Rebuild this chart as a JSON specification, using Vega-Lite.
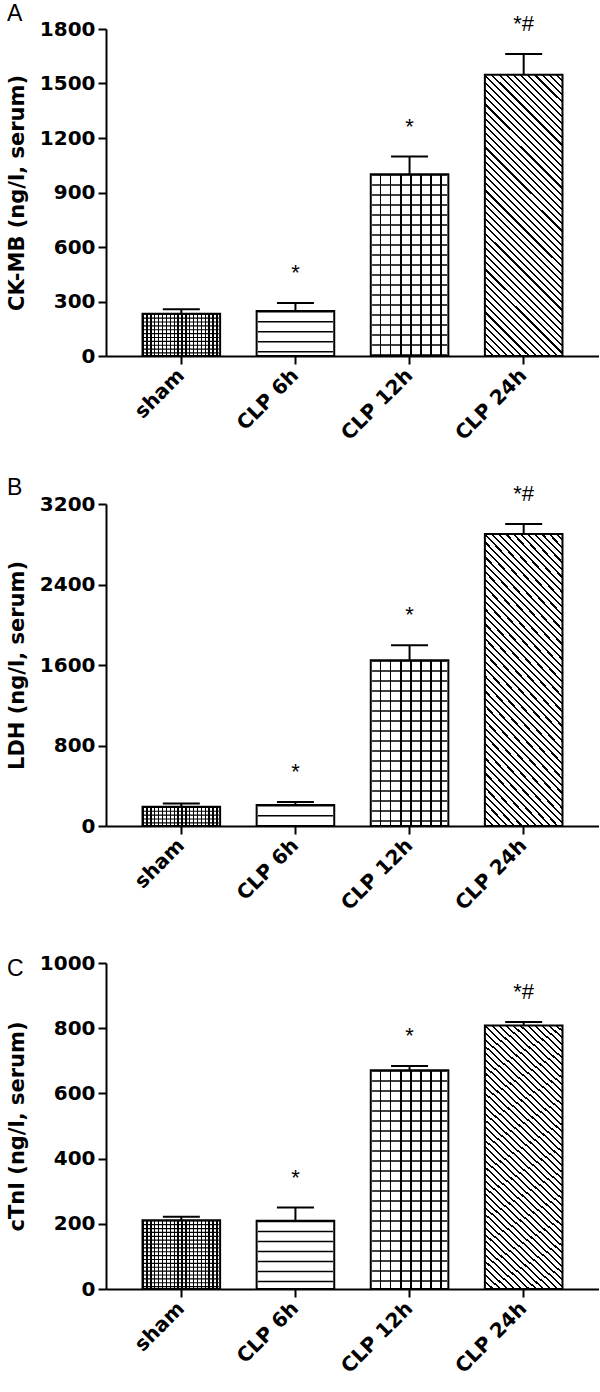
{
"$schema": "https://vega.github.io/schema/vega-lite/v6.json",
"background": "white",
"padding": {"left": 6, "top": 3, "right": 0, "bottom": 2},
"params": [
 {"name": "shamfill", "value": {"gradient": "linear", "x1": 0, "y1": 0, "x2": 1, "y2": 0, "stops": [
   {"offset":0,"color":"#000"},{"offset":0.017,"color":"#000"},{"offset":0.017,"color":"#fff"},{"offset":0.05,"color":"#fff"},
   {"offset":0.05,"color":"#000"},{"offset":0.067,"color":"#000"},{"offset":0.067,"color":"#fff"},{"offset":0.1,"color":"#fff"},
   {"offset":0.1,"color":"#000"},{"offset":0.117,"color":"#000"},{"offset":0.117,"color":"#fff"},{"offset":0.15,"color":"#fff"},
   {"offset":0.15,"color":"#000"},{"offset":0.167,"color":"#000"},{"offset":0.167,"color":"#fff"},{"offset":0.2,"color":"#fff"},
   {"offset":0.2,"color":"#000"},{"offset":0.217,"color":"#000"},{"offset":0.217,"color":"#fff"},{"offset":0.25,"color":"#fff"},
   {"offset":0.25,"color":"#000"},{"offset":0.267,"color":"#000"},{"offset":0.267,"color":"#fff"},{"offset":0.3,"color":"#fff"},
   {"offset":0.3,"color":"#000"},{"offset":0.317,"color":"#000"},{"offset":0.317,"color":"#fff"},{"offset":0.35,"color":"#fff"},
   {"offset":0.35,"color":"#000"},{"offset":0.367,"color":"#000"},{"offset":0.367,"color":"#fff"},{"offset":0.4,"color":"#fff"},
   {"offset":0.4,"color":"#000"},{"offset":0.417,"color":"#000"},{"offset":0.417,"color":"#fff"},{"offset":0.45,"color":"#fff"},
   {"offset":0.45,"color":"#000"},{"offset":0.467,"color":"#000"},{"offset":0.467,"color":"#fff"},{"offset":0.5,"color":"#fff"},
   {"offset":0.5,"color":"#000"},{"offset":0.517,"color":"#000"},{"offset":0.517,"color":"#fff"},{"offset":0.55,"color":"#fff"},
   {"offset":0.55,"color":"#000"},{"offset":0.567,"color":"#000"},{"offset":0.567,"color":"#fff"},{"offset":0.6,"color":"#fff"},
   {"offset":0.6,"color":"#000"},{"offset":0.617,"color":"#000"},{"offset":0.617,"color":"#fff"},{"offset":0.65,"color":"#fff"},
   {"offset":0.65,"color":"#000"},{"offset":0.667,"color":"#000"},{"offset":0.667,"color":"#fff"},{"offset":0.7,"color":"#fff"},
   {"offset":0.7,"color":"#000"},{"offset":0.717,"color":"#000"},{"offset":0.717,"color":"#fff"},{"offset":0.75,"color":"#fff"},
   {"offset":0.75,"color":"#000"},{"offset":0.767,"color":"#000"},{"offset":0.767,"color":"#fff"},{"offset":0.8,"color":"#fff"},
   {"offset":0.8,"color":"#000"},{"offset":0.817,"color":"#000"},{"offset":0.817,"color":"#fff"},{"offset":0.85,"color":"#fff"},
   {"offset":0.85,"color":"#000"},{"offset":0.867,"color":"#000"},{"offset":0.867,"color":"#fff"},{"offset":0.9,"color":"#fff"},
   {"offset":0.9,"color":"#000"},{"offset":0.917,"color":"#000"},{"offset":0.917,"color":"#fff"},{"offset":0.95,"color":"#fff"},
   {"offset":0.95,"color":"#000"},{"offset":0.967,"color":"#000"},{"offset":0.967,"color":"#fff"},{"offset":1,"color":"#fff"}
 ]}},
 {"name": "gridfill", "value": {"gradient": "linear", "x1": 0, "y1": 0, "x2": 1, "y2": 0, "stops": [
   {"offset":0,"color":"#fff"},{"offset":0.12,"color":"#fff"},{"offset":0.12,"color":"#000"},{"offset":0.138,"color":"#000"},
   {"offset":0.138,"color":"#fff"},{"offset":0.249,"color":"#fff"},{"offset":0.249,"color":"#000"},{"offset":0.267,"color":"#000"},
   {"offset":0.267,"color":"#fff"},{"offset":0.379,"color":"#fff"},{"offset":0.379,"color":"#000"},{"offset":0.397,"color":"#000"},
   {"offset":0.397,"color":"#fff"},{"offset":0.508,"color":"#fff"},{"offset":0.508,"color":"#000"},{"offset":0.526,"color":"#000"},
   {"offset":0.526,"color":"#fff"},{"offset":0.637,"color":"#fff"},{"offset":0.637,"color":"#000"},{"offset":0.655,"color":"#000"},
   {"offset":0.655,"color":"#fff"},{"offset":0.766,"color":"#fff"},{"offset":0.766,"color":"#000"},{"offset":0.784,"color":"#000"},
   {"offset":0.784,"color":"#fff"},{"offset":0.895,"color":"#fff"},{"offset":0.895,"color":"#000"},{"offset":0.913,"color":"#000"},
   {"offset":0.913,"color":"#fff"},{"offset":1,"color":"#fff"}
 ]}},
 {"name": "diagfill", "value": {"gradient": "linear", "x1": 0, "y1": 1, "x2": 0.3265, "y2": -0.1855, "stops": [
   {"offset":0,"color":"#000"},{"offset":0.006,"color":"#000"},{"offset":0.006,"color":"#fff"},{"offset":0.02,"color":"#fff"},
   {"offset":0.02,"color":"#000"},{"offset":0.026,"color":"#000"},{"offset":0.026,"color":"#fff"},{"offset":0.04,"color":"#fff"},
   {"offset":0.04,"color":"#000"},{"offset":0.046,"color":"#000"},{"offset":0.046,"color":"#fff"},{"offset":0.06,"color":"#fff"},
   {"offset":0.06,"color":"#000"},{"offset":0.066,"color":"#000"},{"offset":0.066,"color":"#fff"},{"offset":0.08,"color":"#fff"},
   {"offset":0.08,"color":"#000"},{"offset":0.086,"color":"#000"},{"offset":0.086,"color":"#fff"},{"offset":0.1,"color":"#fff"},
   {"offset":0.1,"color":"#000"},{"offset":0.106,"color":"#000"},{"offset":0.106,"color":"#fff"},{"offset":0.12,"color":"#fff"},
   {"offset":0.12,"color":"#000"},{"offset":0.126,"color":"#000"},{"offset":0.126,"color":"#fff"},{"offset":0.14,"color":"#fff"},
   {"offset":0.14,"color":"#000"},{"offset":0.146,"color":"#000"},{"offset":0.146,"color":"#fff"},{"offset":0.16,"color":"#fff"},
   {"offset":0.16,"color":"#000"},{"offset":0.166,"color":"#000"},{"offset":0.166,"color":"#fff"},{"offset":0.18,"color":"#fff"},
   {"offset":0.18,"color":"#000"},{"offset":0.186,"color":"#000"},{"offset":0.186,"color":"#fff"},{"offset":0.2,"color":"#fff"},
   {"offset":0.2,"color":"#000"},{"offset":0.206,"color":"#000"},{"offset":0.206,"color":"#fff"},{"offset":0.22,"color":"#fff"},
   {"offset":0.22,"color":"#000"},{"offset":0.226,"color":"#000"},{"offset":0.226,"color":"#fff"},{"offset":0.24,"color":"#fff"},
   {"offset":0.24,"color":"#000"},{"offset":0.246,"color":"#000"},{"offset":0.246,"color":"#fff"},{"offset":0.26,"color":"#fff"},
   {"offset":0.26,"color":"#000"},{"offset":0.266,"color":"#000"},{"offset":0.266,"color":"#fff"},{"offset":0.28,"color":"#fff"},
   {"offset":0.28,"color":"#000"},{"offset":0.286,"color":"#000"},{"offset":0.286,"color":"#fff"},{"offset":0.3,"color":"#fff"},
   {"offset":0.3,"color":"#000"},{"offset":0.306,"color":"#000"},{"offset":0.306,"color":"#fff"},{"offset":0.32,"color":"#fff"},
   {"offset":0.32,"color":"#000"},{"offset":0.326,"color":"#000"},{"offset":0.326,"color":"#fff"},{"offset":0.34,"color":"#fff"},
   {"offset":0.34,"color":"#000"},{"offset":0.346,"color":"#000"},{"offset":0.346,"color":"#fff"},{"offset":0.36,"color":"#fff"},
   {"offset":0.36,"color":"#000"},{"offset":0.366,"color":"#000"},{"offset":0.366,"color":"#fff"},{"offset":0.38,"color":"#fff"},
   {"offset":0.38,"color":"#000"},{"offset":0.386,"color":"#000"},{"offset":0.386,"color":"#fff"},{"offset":0.4,"color":"#fff"},
   {"offset":0.4,"color":"#000"},{"offset":0.406,"color":"#000"},{"offset":0.406,"color":"#fff"},{"offset":0.42,"color":"#fff"},
   {"offset":0.42,"color":"#000"},{"offset":0.426,"color":"#000"},{"offset":0.426,"color":"#fff"},{"offset":0.44,"color":"#fff"},
   {"offset":0.44,"color":"#000"},{"offset":0.446,"color":"#000"},{"offset":0.446,"color":"#fff"},{"offset":0.46,"color":"#fff"},
   {"offset":0.46,"color":"#000"},{"offset":0.466,"color":"#000"},{"offset":0.466,"color":"#fff"},{"offset":0.48,"color":"#fff"},
   {"offset":0.48,"color":"#000"},{"offset":0.486,"color":"#000"},{"offset":0.486,"color":"#fff"},{"offset":0.5,"color":"#fff"},
   {"offset":0.5,"color":"#000"},{"offset":0.506,"color":"#000"},{"offset":0.506,"color":"#fff"},{"offset":0.52,"color":"#fff"},
   {"offset":0.52,"color":"#000"},{"offset":0.526,"color":"#000"},{"offset":0.526,"color":"#fff"},{"offset":0.54,"color":"#fff"},
   {"offset":0.54,"color":"#000"},{"offset":0.546,"color":"#000"},{"offset":0.546,"color":"#fff"},{"offset":0.56,"color":"#fff"},
   {"offset":0.56,"color":"#000"},{"offset":0.566,"color":"#000"},{"offset":0.566,"color":"#fff"},{"offset":0.58,"color":"#fff"},
   {"offset":0.58,"color":"#000"},{"offset":0.586,"color":"#000"},{"offset":0.586,"color":"#fff"},{"offset":0.6,"color":"#fff"},
   {"offset":0.6,"color":"#000"},{"offset":0.606,"color":"#000"},{"offset":0.606,"color":"#fff"},{"offset":0.62,"color":"#fff"},
   {"offset":0.62,"color":"#000"},{"offset":0.626,"color":"#000"},{"offset":0.626,"color":"#fff"},{"offset":0.64,"color":"#fff"},
   {"offset":0.64,"color":"#000"},{"offset":0.646,"color":"#000"},{"offset":0.646,"color":"#fff"},{"offset":0.66,"color":"#fff"},
   {"offset":0.66,"color":"#000"},{"offset":0.666,"color":"#000"},{"offset":0.666,"color":"#fff"},{"offset":0.68,"color":"#fff"},
   {"offset":0.68,"color":"#000"},{"offset":0.686,"color":"#000"},{"offset":0.686,"color":"#fff"},{"offset":0.7,"color":"#fff"},
   {"offset":0.7,"color":"#000"},{"offset":0.706,"color":"#000"},{"offset":0.706,"color":"#fff"},{"offset":0.72,"color":"#fff"},
   {"offset":0.72,"color":"#000"},{"offset":0.726,"color":"#000"},{"offset":0.726,"color":"#fff"},{"offset":0.74,"color":"#fff"},
   {"offset":0.74,"color":"#000"},{"offset":0.746,"color":"#000"},{"offset":0.746,"color":"#fff"},{"offset":0.76,"color":"#fff"},
   {"offset":0.76,"color":"#000"},{"offset":0.766,"color":"#000"},{"offset":0.766,"color":"#fff"},{"offset":0.78,"color":"#fff"},
   {"offset":0.78,"color":"#000"},{"offset":0.786,"color":"#000"},{"offset":0.786,"color":"#fff"},{"offset":0.8,"color":"#fff"},
   {"offset":0.8,"color":"#000"},{"offset":0.806,"color":"#000"},{"offset":0.806,"color":"#fff"},{"offset":0.82,"color":"#fff"},
   {"offset":0.82,"color":"#000"},{"offset":0.826,"color":"#000"},{"offset":0.826,"color":"#fff"},{"offset":0.84,"color":"#fff"},
   {"offset":0.84,"color":"#000"},{"offset":0.846,"color":"#000"},{"offset":0.846,"color":"#fff"},{"offset":0.86,"color":"#fff"},
   {"offset":0.86,"color":"#000"},{"offset":0.866,"color":"#000"},{"offset":0.866,"color":"#fff"},{"offset":0.88,"color":"#fff"},
   {"offset":0.88,"color":"#000"},{"offset":0.886,"color":"#000"},{"offset":0.886,"color":"#fff"},{"offset":0.9,"color":"#fff"},
   {"offset":0.9,"color":"#000"},{"offset":0.906,"color":"#000"},{"offset":0.906,"color":"#fff"},{"offset":0.92,"color":"#fff"},
   {"offset":0.92,"color":"#000"},{"offset":0.926,"color":"#000"},{"offset":0.926,"color":"#fff"},{"offset":0.94,"color":"#fff"},
   {"offset":0.94,"color":"#000"},{"offset":0.946,"color":"#000"},{"offset":0.946,"color":"#fff"},{"offset":0.96,"color":"#fff"},
   {"offset":0.96,"color":"#000"},{"offset":0.966,"color":"#000"},{"offset":0.966,"color":"#fff"},{"offset":0.98,"color":"#fff"},
   {"offset":0.98,"color":"#000"},{"offset":0.986,"color":"#000"},{"offset":0.986,"color":"#fff"},{"offset":1,"color":"#fff"}
 ]}}
],
"config": {
 "view": {"stroke": null},
 "axis": {"domainColor": "black", "tickColor": "black", "labelColor": "black", "titleColor": "black", "domainWidth": 2, "tickWidth": 2, "tickSize": 8, "grid": false, "labelFont": "DejaVu Sans", "labelFontWeight": "bold", "labelFontSize": 20, "titleFont": "DejaVu Sans", "titleFontWeight": "bold", "titleFontSize": 21},
 "axisX": {"labelAngle": -45, "labelAlign": "right", "labelBaseline": "middle", "labelPadding": 8},
 "axisY": {"labelPadding": 3, "titlePadding": 12, "format": "d"},
 "title": {"font": "Liberation Sans", "fontSize": 23, "fontWeight": "normal", "color": "black", "anchor": "start", "frame": "group", "dx": -99}
},
"bounds": "flush",
"spacing": 148,
"vconcat": [
 {
  "width": 493, "height": 327,
  "title": {"text": "A", "dy": 17},
  "data": {"values": [
   {"group": "sham", "value": 233, "upper": 257, "sig": ""},
   {"group": "CLP 6h", "value": 248, "upper": 292, "sig": "*"},
   {"group": "CLP 12h", "value": 1001, "upper": 1098, "sig": "*"},
   {"group": "CLP 24h", "value": 1548, "upper": 1662, "sig": "*#"}
  ]},
  "encoding": {
   "x": {"field": "group", "type": "nominal", "scale": {"domain": ["sham", "CLP 6h", "CLP 12h", "CLP 24h"], "paddingInner": 0.32, "paddingOuter": 0.32}, "axis": {"title": null}},
   "y": {"field": "value", "type": "quantitative", "scale": {"domain": [0, 1800], "nice": false}, "title": "CK-MB (ng/l, serum)", "axis": {"values": [0, 300, 600, 900, 1200, 1500, 1800]}}
  },
  "layer": [
   {"transform": [{"filter": "datum.group === 'sham'"}], "mark": {"type": "bar", "fill": {"expr": "shamfill"}, "stroke": "black", "strokeWidth": 2}},
   {"transform": [{"filter": "datum.group === 'CLP 6h'"}], "mark": {"type": "bar", "fill": "white", "stroke": "black", "strokeWidth": 2}},
   {"transform": [{"filter": "datum.group === 'CLP 12h'"}], "mark": {"type": "bar", "fill": {"expr": "gridfill"}, "stroke": "black", "strokeWidth": 2}},
   {"transform": [{"filter": "datum.group === 'CLP 24h'"}], "mark": {"type": "bar", "fill": {"expr": "diagfill"}, "stroke": "black", "strokeWidth": 2}},
   {"transform": [{"filter": "datum.group === 'sham'"}], "mark": {"type": "rule", "color": "black", "strokeWidth": 75, "strokeDash": [1.2, 2.67]}, "encoding": {"y2": {"datum": 0}}},
   {"transform": [{"filter": "datum.group === 'CLP 6h' || datum.group === 'CLP 12h'"}], "mark": {"type": "rule", "color": "black", "strokeWidth": 75, "strokeDash": [1.5, 8.5]}, "encoding": {"y2": {"datum": 0}}},
   {"mark": {"type": "rule", "color": "black", "strokeWidth": 2}, "encoding": {"y2": {"field": "upper"}}},
   {"mark": {"type": "tick", "color": "black", "size": 37, "thickness": 2, "opacity": 1}, "encoding": {"y": {"field": "upper", "type": "quantitative", "scale": {"domain": [0, 1800], "nice": false}, "title": "CK-MB (ng/l, serum)"}}},
   {"mark": {"type": "text", "color": "black", "font": "Liberation Sans", "fontSize": 22, "baseline": "alphabetic", "align": "center", "dy": -23}, "encoding": {"y": {"field": "upper", "type": "quantitative", "scale": {"domain": [0, 1800], "nice": false}, "title": "CK-MB (ng/l, serum)"}, "text": {"field": "sig", "type": "nominal"}}}
  ]
 },
 {
  "bounds": "flush",
  "spacing": 137,
  "vconcat": [
   {
    "width": 493, "height": 322,
    "title": {"text": "B", "dy": 21},
    "data": {"values": [
     {"group": "sham", "value": 191, "upper": 224, "sig": ""},
     {"group": "CLP 6h", "value": 209, "upper": 239, "sig": "*"},
     {"group": "CLP 12h", "value": 1648, "upper": 1797, "sig": "*"},
     {"group": "CLP 24h", "value": 2902, "upper": 3001, "sig": "*#"}
    ]},
    "encoding": {
     "x": {"field": "group", "type": "nominal", "scale": {"domain": ["sham", "CLP 6h", "CLP 12h", "CLP 24h"], "paddingInner": 0.32, "paddingOuter": 0.32}, "axis": {"title": null}},
     "y": {"field": "value", "type": "quantitative", "scale": {"domain": [0, 3200], "nice": false}, "title": "LDH (ng/l, serum)", "axis": {"values": [0, 800, 1600, 2400, 3200]}}
    },
    "layer": [
     {"transform": [{"filter": "datum.group === 'sham'"}], "mark": {"type": "bar", "fill": {"expr": "shamfill"}, "stroke": "black", "strokeWidth": 2}},
     {"transform": [{"filter": "datum.group === 'CLP 6h'"}], "mark": {"type": "bar", "fill": "white", "stroke": "black", "strokeWidth": 2}},
     {"transform": [{"filter": "datum.group === 'CLP 12h'"}], "mark": {"type": "bar", "fill": {"expr": "gridfill"}, "stroke": "black", "strokeWidth": 2}},
     {"transform": [{"filter": "datum.group === 'CLP 24h'"}], "mark": {"type": "bar", "fill": {"expr": "diagfill"}, "stroke": "black", "strokeWidth": 2}},
     {"transform": [{"filter": "datum.group === 'sham'"}], "mark": {"type": "rule", "color": "black", "strokeWidth": 75, "strokeDash": [1.2, 2.67]}, "encoding": {"y2": {"datum": 0}}},
     {"transform": [{"filter": "datum.group === 'CLP 6h' || datum.group === 'CLP 12h'"}], "mark": {"type": "rule", "color": "black", "strokeWidth": 75, "strokeDash": [1.5, 8.5]}, "encoding": {"y2": {"datum": 0}}},
     {"mark": {"type": "rule", "color": "black", "strokeWidth": 2}, "encoding": {"y2": {"field": "upper"}}},
     {"mark": {"type": "tick", "color": "black", "size": 37, "thickness": 2, "opacity": 1}, "encoding": {"y": {"field": "upper", "type": "quantitative", "scale": {"domain": [0, 3200], "nice": false}, "title": "LDH (ng/l, serum)"}}},
     {"mark": {"type": "text", "color": "black", "font": "Liberation Sans", "fontSize": 22, "baseline": "alphabetic", "align": "center", "dy": -23}, "encoding": {"y": {"field": "upper", "type": "quantitative", "scale": {"domain": [0, 3200], "nice": false}, "title": "LDH (ng/l, serum)"}, "text": {"field": "sig", "type": "nominal"}}}
    ]
   },
   {
    "width": 493, "height": 326,
    "title": {"text": "C", "dy": 32},
    "data": {"values": [
     {"group": "sham", "value": 211, "upper": 222, "sig": ""},
     {"group": "CLP 6h", "value": 209, "upper": 250, "sig": "*"},
     {"group": "CLP 12h", "value": 671, "upper": 684, "sig": "*"},
     {"group": "CLP 24h", "value": 808, "upper": 819, "sig": "*#"}
    ]},
    "encoding": {
     "x": {"field": "group", "type": "nominal", "scale": {"domain": ["sham", "CLP 6h", "CLP 12h", "CLP 24h"], "paddingInner": 0.32, "paddingOuter": 0.32}, "axis": {"title": null}},
     "y": {"field": "value", "type": "quantitative", "scale": {"domain": [0, 1000], "nice": false}, "title": "cTnI (ng/l, serum)", "axis": {"values": [0, 200, 400, 600, 800, 1000]}}
    },
    "layer": [
     {"transform": [{"filter": "datum.group === 'sham'"}], "mark": {"type": "bar", "fill": {"expr": "shamfill"}, "stroke": "black", "strokeWidth": 2}},
     {"transform": [{"filter": "datum.group === 'CLP 6h'"}], "mark": {"type": "bar", "fill": "white", "stroke": "black", "strokeWidth": 2}},
     {"transform": [{"filter": "datum.group === 'CLP 12h'"}], "mark": {"type": "bar", "fill": {"expr": "gridfill"}, "stroke": "black", "strokeWidth": 2}},
     {"transform": [{"filter": "datum.group === 'CLP 24h'"}], "mark": {"type": "bar", "fill": {"expr": "diagfill"}, "stroke": "black", "strokeWidth": 2}},
     {"transform": [{"filter": "datum.group === 'sham'"}], "mark": {"type": "rule", "color": "black", "strokeWidth": 75, "strokeDash": [1.2, 2.67]}, "encoding": {"y2": {"datum": 0}}},
     {"transform": [{"filter": "datum.group === 'CLP 6h' || datum.group === 'CLP 12h'"}], "mark": {"type": "rule", "color": "black", "strokeWidth": 75, "strokeDash": [1.5, 8.5]}, "encoding": {"y2": {"datum": 0}}},
     {"mark": {"type": "rule", "color": "black", "strokeWidth": 2}, "encoding": {"y2": {"field": "upper"}}},
     {"mark": {"type": "tick", "color": "black", "size": 37, "thickness": 2, "opacity": 1}, "encoding": {"y": {"field": "upper", "type": "quantitative", "scale": {"domain": [0, 1000], "nice": false}, "title": "cTnI (ng/l, serum)"}}},
     {"mark": {"type": "text", "color": "black", "font": "Liberation Sans", "fontSize": 22, "baseline": "alphabetic", "align": "center", "dy": -23}, "encoding": {"y": {"field": "upper", "type": "quantitative", "scale": {"domain": [0, 1000], "nice": false}, "title": "cTnI (ng/l, serum)"}, "text": {"field": "sig", "type": "nominal"}}}
    ]
   }
  ]
 }
]
}
